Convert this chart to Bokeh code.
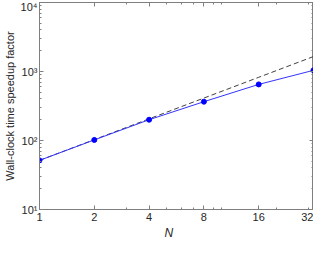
from bokeh.plotting import figure
from bokeh.models import FixedTicker, LogAxis, Title
from bokeh.embed import file_html
from bokeh.resources import INLINE

n_cpu = [1, 2, 4, 8, 16, 32]
speedup = [51.5, 102, 200, 365, 650, 1040]
ideal = [51.5 * n for n in n_cpu]
x_tick_labels = ["1", "2", "4", "8", "16", "32"]
x_minor = [3, 5, 6, 7, 9, 10, 20, 30]
y_major = [10, 100, 1000, 10000]
y_labels = ["10¹", "10²", "10³", "10⁴"]

FONT = "Liberation Sans"
AX = "#7f7f7f"

p = figure(width=310, height=245, x_axis_type="log", y_axis_type="log",
           x_range=(1, 32), y_range=(10, 10000),
           output_backend="svg", toolbar_location=None,
           min_border_left=0, min_border_right=0, min_border_top=2, min_border_bottom=0)
p.frame_width = 274
p.frame_height = 207
p.grid.visible = False
p.outline_line_color = AX

y_minor = [m * d for d in (10, 100, 1000) for m in range(2, 10)]

def style(ax):
    ax.axis_line_color = AX
    ax.major_tick_line_color = AX
    ax.minor_tick_line_color = AX
    ax.major_tick_in = 4
    ax.major_tick_out = 0
    ax.minor_tick_in = 2
    ax.minor_tick_out = 0
    ax.major_label_text_font = FONT
    ax.major_label_text_font_size = "11px"
    ax.major_label_text_color = "#262626"

p.xaxis.ticker = FixedTicker(ticks=n_cpu, minor_ticks=x_minor)
p.xaxis.major_label_overrides = {n: s for n, s in zip(n_cpu, x_tick_labels)}
p.xaxis.major_label_standoff = 3
p.yaxis.ticker = FixedTicker(ticks=y_major, minor_ticks=y_minor)
p.yaxis.major_label_overrides = {v: s for v, s in zip(y_major, y_labels)}
p.yaxis.major_label_standoff = 2
style(p.xaxis[0])
style(p.yaxis[0])
p.yaxis.axis_label = "Wall-clock time speedup factor"
p.yaxis.axis_label_text_font = FONT
p.yaxis.axis_label_text_font_size = "11px"
p.yaxis.axis_label_text_font_style = "normal"
p.yaxis.axis_label_text_color = "#262626"
p.yaxis.axis_label_standoff = 2

top = LogAxis(ticker=FixedTicker(ticks=n_cpu, minor_ticks=x_minor),
              major_label_overrides={n: "" for n in n_cpu})
right = LogAxis(ticker=FixedTicker(ticks=y_major, minor_ticks=y_minor),
                major_label_overrides={v: "" for v in y_major})
style(top)
style(right)
top.major_label_standoff = 0
right.major_label_standoff = 0
p.add_layout(top, "above")
p.add_layout(right, "right")

p.line(n_cpu, ideal, line_color="#404040", line_width=1, line_dash="5 3")
p.line(n_cpu, speedup, line_color="#3333ff", line_width=1)
p.scatter(n_cpu, speedup, size=5, color="#0000ff")

t_n = Title(text="N", align="left", offset=125, standoff=0,
            text_font=FONT, text_font_size="12px", text_font_style="italic",
            text_color="#262626")
t_cpu = Title(text="cpu", align="left", offset=133, standoff=-16,
              text_font=FONT, text_font_size="8.5px", text_font_style="italic",
              text_color="#262626")
p.add_layout(t_n, "below")
p.add_layout(t_cpu, "below")

open("out.html", "w").write(file_html(p, INLINE))
